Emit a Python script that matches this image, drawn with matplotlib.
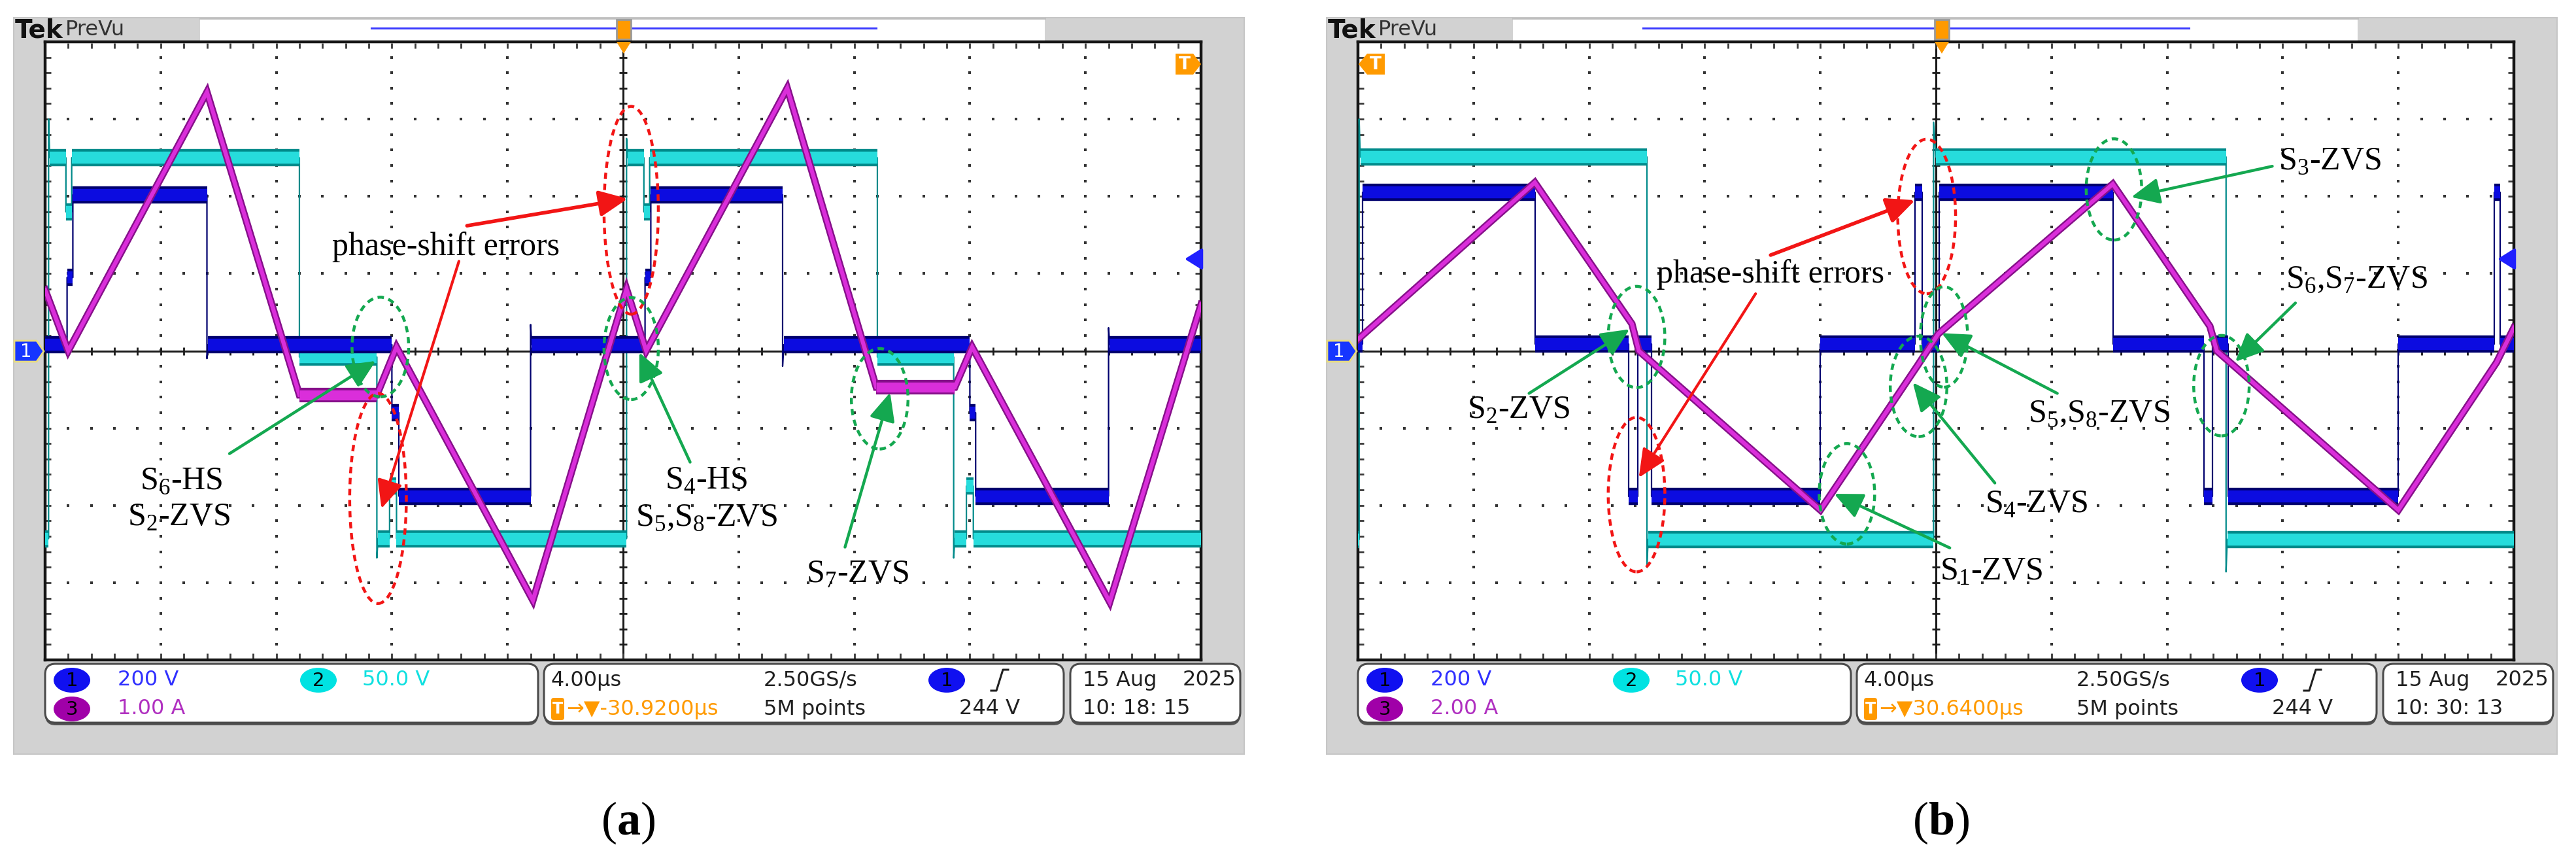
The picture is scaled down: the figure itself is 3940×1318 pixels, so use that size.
import matplotlib
matplotlib.use("Agg")
import numpy as np
import matplotlib.pyplot as plt
from matplotlib.patches import Rectangle, Ellipse, FancyBboxPatch, Polygon

plt.rcParams['font.family'] = ['Liberation Serif', 'DejaVu Serif']
plt.rcParams['mathtext.fontset'] = 'custom'
plt.rcParams['mathtext.rm'] = 'Liberation Serif'
plt.rcParams['mathtext.bf'] = 'Liberation Serif:bold'

W, H = 3941, 1318

# ---------------- panel (a): time in divisions (4 us/div), level in divisions ----------------
a_ch1_t = [0, 0.19, 0.19, 0.24, 0.24, 1.40, 1.40, 1.41, 3.00, 3.00, 3.06, 3.06, 4.20, 4.20, 4.21,
           5.19, 5.19, 5.24, 5.24, 6.38, 6.38, 6.39, 8.00, 8.00, 8.05, 8.05, 9.20, 9.20, 9.21, 10]
a_ch1_v = [0.08, 0.08, 0.95, 0.95, 2.02, 2.02, -0.1, 0.08, 0.08, -0.8, -0.8, -1.88, -1.88, 0.34, 0.08,
           0.08, 0.95, 0.95, 2.02, 2.02, -0.2, 0.08, 0.08, -0.8, -0.8, -1.88, -1.88, 0.3, 0.08, 0.08]
a_ch2_t = [0, 0.03, 0.03, 0.04, 0.18, 0.18, 0.23, 0.23, 2.20, 2.20, 2.87, 2.87, 2.88, 2.98, 2.98,
           3.04, 3.04, 5.03, 5.03, 5.04, 5.18, 5.18, 5.23, 5.23, 7.20, 7.20, 7.86, 7.86, 7.87, 7.97,
           7.97, 8.03, 8.03, 10]
a_ch2_v = [-2.43, -2.43, 3.0, 2.5, 2.5, 1.8, 1.8, 2.5, 2.5, -0.08, -0.08, -2.68, -2.43, -2.43, -1.75,
           -1.75, -2.43, -2.43, 2.75, 2.5, 2.5, 1.8, 1.8, 2.5, 2.5, -0.08, -0.08, -2.68, -2.43, -2.43,
           -1.75, -1.75, -2.43, -2.43]
a_ch3_t = [0, 0.20, 1.40, 2.20, 2.87, 3.04, 4.22, 5.03, 5.20, 6.42, 7.19, 7.87, 8.02, 9.21, 10]
a_ch3_v = [0.79, 0.0, 3.35, -0.57, -0.57, 0.05, -3.23, 0.80, 0.0, 3.40, -0.47, -0.47, 0.05, -3.25, 0.60]

# ---------------- panel (b) ----------------
b_ch1_t = [0, 0.04, 0.04, 1.53, 1.53, 2.34, 2.34, 2.42, 2.42, 2.54, 2.54, 4.00, 4.00, 4.82, 4.82,
           4.88, 4.88, 5.03, 5.03, 6.53, 6.53, 7.32, 7.32, 7.39, 7.39, 7.53, 7.53, 9.00, 9.00, 9.83,
           9.83, 9.88, 9.88, 10]
b_ch1_v = [0.09, 0.09, 2.05, 2.05, 0.09, 0.09, -1.88, -1.88, 0.09, 0.09, -1.88, -1.88, 0.09, 0.09,
           2.05, 2.05, 0.09, 0.09, 2.05, 2.05, 0.09, 0.09, -1.88, -1.88, 0.09, 0.09, -1.88, -1.88,
           0.09, 0.09, 2.05, 2.05, 0.09, 0.09]
b_ch2_t = [0, 0.01, 0.01, 0.02, 2.50, 2.50, 2.51, 4.98, 4.98, 5.00, 7.51, 7.51, 7.52, 10]
b_ch2_v = [-2.44, -2.44, 3.0, 2.51, 2.51, -2.8, -2.44, -2.44, 2.96, 2.51, 2.51, -2.86, -2.44, -2.44]
b_ch3_t = [0, 1.53, 2.37, 2.43, 4.00, 4.85, 5.02, 6.53, 7.37, 7.43, 9.00, 9.85, 10]
b_ch3_v = [0.15, 2.18, 0.35, 0.0, -2.06, -0.17, 0.22, 2.16, 0.32, 0.0, -2.06, -0.15, 0.30]

# status bar texts
a_scales = ["200 V", "50.0 V", "1.00 A"]
b_scales = ["200 V", "50.0 V", "2.00 A"]
a_horiz = ["4.00\u00b5s", "\u2192\u25bc-30.9200\u00b5s", "2.50GS/s", "5M points", "244 V"]
b_horiz = ["4.00\u00b5s", "\u2192\u25bc30.6400\u00b5s", "2.50GS/s", "5M points", "244 V"]
a_date = ["15 Aug", "2025", "10: 18: 15"]
b_date = ["15 Aug", "2025", "10: 30: 13"]

BLUE, NAVY = '#0c0ce0', '#00006e'
CYAN, TEAL = '#26dcdc', '#008a8a'
MAG, PURP = '#da2eda', '#86108a'
RED, GREEN = '#f21515', '#14a850'
ORANGE = '#ff9a00'
SANS = 'DejaVu Sans'


def draw_trace(ax, t, v, band, edge, thin_lw, band_lw):
    ax.plot(t, v, color=edge, lw=thin_lw, zorder=3)
    for i in range(len(t) - 1):
        if v[i] == v[i + 1] and t[i + 1] > t[i]:
            ax.plot([t[i], t[i + 1]], [v[i], v[i]], color=edge, lw=band_lw,
                    solid_capstyle='butt', zorder=3)
            ax.plot([t[i], t[i + 1]], [v[i], v[i]], color=band, lw=band_lw * 0.7,
                    solid_capstyle='butt', zorder=3)


def draw_grid(ax):
    minor = np.arange(0, 10.001, 0.2)
    vminor = np.arange(-4, 4.001, 0.2)
    for yl in [-3, -2, -1, 1, 2, 3]:
        ax.scatter(minor, np.full_like(minor, yl), s=6, marker='s', c='#333333', lw=0, zorder=1)
    for xl in [1, 2, 3, 4, 6, 7, 8, 9]:
        ax.scatter(np.full_like(vminor, xl), vminor, s=6, marker='s', c='#333333', lw=0, zorder=1)
    ax.axhline(0, color='#1a1a1a', lw=2.2, zorder=1)
    ax.axvline(5, color='#1a1a1a', lw=2.2, zorder=1)
    ax.plot(minor, np.zeros_like(minor), ls='none', marker='|', ms=9, mew=2, color='#1a1a1a', zorder=1)
    ax.plot(np.full_like(vminor, 5), vminor, ls='none', marker='_', ms=9, mew=2, color='#1a1a1a', zorder=1)
    ax.plot(minor, np.full_like(minor, 3.95), ls='none', marker='|', ms=6, mew=2, color='#3a3a3a', zorder=1)
    ax.plot(minor, np.full_like(minor, -3.95), ls='none', marker='|', ms=6, mew=2, color='#3a3a3a', zorder=1)
    ax.plot(np.full_like(vminor, 0.03), vminor, ls='none', marker='_', ms=6, mew=2, color='#3a3a3a', zorder=1)
    ax.plot(np.full_like(vminor, 9.97), vminor, ls='none', marker='_', ms=6, mew=2, color='#3a3a3a', zorder=1)


def annotate(ax, ellipses, arrows, texts):
    for (cx, cy, w, h, col) in ellipses:
        ax.add_patch(Ellipse((cx, cy), w, h, fill=False, ec=col, lw=3.2,
                             ls=(0, (2.2, 1.6)), zorder=6, clip_on=False))
    for (x0, y0, x1, y1, col, lw) in arrows:
        ax.annotate('', xy=(x1, y1), xytext=(x0, y0), zorder=7,
                    arrowprops=dict(arrowstyle='-|>,head_length=1.2,head_width=0.55',
                                    mutation_scale=22, lw=lw, color=col,
                                    shrinkA=0, shrinkB=0))
    for (x, y, s) in texts:
        ax.text(x, y, s, fontsize=36, ha='center', va='center', color='black', zorder=8)


def badge(ax, cx, cy, label, fc):
    ax.add_patch(Ellipse((cx, cy), 56, 38, fc=fc, ec='none', zorder=3))
    ax.text(cx, cy + 1, label, fontsize=21, ha='center', va='center', color='black',
            family=SANS, zorder=4)


def rising_edge(ax, x, y, col='#202020'):
    ax.plot([x - 8, x, x + 10, x + 18], [y + 16, y + 16, y - 16, y - 16], color=col, lw=2.2, zorder=4)


def draw_panel(ox, ch1_t, ch1_v, ch2_t, ch2_v, ch3_t, ch3_v, scales, horiz, date, label,
               blue_line, tag_side, ellipses, arrows, texts):
    bg = fig_bg
    top = fig_top
    # scope frame
    bg.add_patch(Rectangle((ox + 21, 27), 1882, 1126, fc='#d2d2d2', ec='#c6c6c6', lw=1.5, zorder=0))
    bg.add_patch(Rectangle((ox + 306, 27), 1292, 35, fc='white', ec='none', zorder=1))
    bg.plot([ox + 306, ox + 1598], [28, 28], color='#bdbdbd', lw=2, zorder=2)
    bg.text(ox + 23, 46, "Tek", fontsize=28, fontweight='bold', family=SANS, va='center',
            ha='left', color='#111111', zorder=2)
    bg.text(ox + 100, 46, "PreVu", fontsize=23, family=SANS, va='center', ha='left',
            color='#333333', zorder=2)
    bg.plot(blue_line, [43, 43], color='#3b3bff', lw=2.2, zorder=2)
    trig_x = ox + 69 + 1768 * 0.5 + (1 if tag_side == 'right' else 9)
    bg.add_patch(Rectangle((trig_x - 11, 30), 22, 30, fc=ORANGE, ec='#9a9a9a', lw=2, zorder=3))
    top.add_patch(Polygon([(trig_x - 11, 64), (trig_x + 11, 64), (trig_x, 82)], closed=True,
                          fc=ORANGE, ec='none', zorder=5))

    # status boxes
    boxes = [(69, 754), (832, 795), (1637, 260)]
    for bx, bw in boxes:
        bg.add_patch(FancyBboxPatch((ox + bx, 1019), bw, 90, boxstyle="round,pad=0,rounding_size=16",
                                    fc='#555555', ec='none', zorder=1))
        bg.add_patch(FancyBboxPatch((ox + bx, 1015), bw, 90, boxstyle="round,pad=0,rounding_size=16",
                                    fc='white', ec='#4a4a4a', lw=2.2, zorder=2))
    r1, r2 = 1040, 1084
    badge(bg, ox + 110, r1, "1", '#1010f0')
    bg.text(ox + 180, r1, scales[0], fontsize=23, family=SANS, color='#3030ff', va='center', zorder=4)
    badge(bg, ox + 487, r1, "2", '#00e2e2')
    bg.text(ox + 554, r1, scales[1], fontsize=23, family=SANS, color='#10e0e0', va='center', zorder=4)
    badge(bg, ox + 110, r2, "3", '#a000a8')
    bg.text(ox + 180, r2, scales[2], fontsize=23, family=SANS, color='#b030c0', va='center', zorder=4)

    bg.text(ox + 842, r1, horiz[0], fontsize=23, family=SANS, color='#202020', va='center', zorder=4)
    bg.add_patch(FancyBboxPatch((ox + 843, r2 - 17), 20, 34, boxstyle="round,pad=0,rounding_size=4",
                                fc=ORANGE, ec='none', zorder=3))
    bg.text(ox + 853, r2, "T", fontsize=17, family=SANS, fontweight='bold', color='white',
            ha='center', va='center', zorder=4)
    bg.text(ox + 866, r2, horiz[1], fontsize=23, family=SANS, color=ORANGE, va='center', zorder=4)
    bg.text(ox + 1168, r1, horiz[2], fontsize=23, family=SANS, color='#202020', va='center', zorder=4)
    bg.text(ox + 1168, r2, horiz[3], fontsize=23, family=SANS, color='#202020', va='center', zorder=4)
    badge(bg, ox + 1448, r1, "1", '#1010f0')
    rising_edge(bg, ox + 1524, r1)
    bg.text(ox + 1560, r2, horiz[4], fontsize=23, family=SANS, color='#202020', va='center',
            ha='right', zorder=4)
    bg.text(ox + 1656, r1, date[0], fontsize=23, family=SANS, color='#202020', va='center', zorder=4)
    bg.text(ox + 1890, r1, date[1], fontsize=23, family=SANS, color='#202020', va='center',
            ha='right', zorder=4)
    bg.text(ox + 1656, r2, date[2], fontsize=23, family=SANS, color='#202020', va='center', zorder=4)

    # channel-1 ground tag
    top.add_patch(Polygon([(ox + 22, 521), (ox + 56, 521), (ox + 67, 537), (ox + 56, 553), (ox + 22, 553)],
                          closed=True, fc='#1636ff', ec='#e8dc80', lw=2, zorder=5))
    top.text(ox + 40, 538, "1", fontsize=20, family=SANS, color='white', ha='center', va='center', zorder=6)
    # trigger level tag and arrow
    if tag_side == 'right':
        pts = [(ox + 1798, 82), (ox + 1825, 82), (ox + 1837, 98), (ox + 1825, 114), (ox + 1798, 114)]
        tx = ox + 1812
    else:
        pts = [(ox + 110, 82), (ox + 83, 82), (ox + 70, 98), (ox + 83, 114), (ox + 110, 114)]
        tx = ox + 96
    top.add_patch(Polygon(pts, closed=True, fc=ORANGE, ec='none', zorder=5))
    top.text(tx, 99, "T", fontsize=19, family=SANS, fontweight='bold', color='white',
             ha='center', va='center', zorder=6)
    top.annotate('', xy=(ox + 1812, 396), xytext=(ox + 1836, 396), zorder=6,
                 arrowprops=dict(arrowstyle='-|>,head_length=0.8,head_width=0.5', mutation_scale=20,
                                 lw=3, color='#2020ff', shrinkA=0, shrinkB=0))

    # graticule and traces
    ax = fig.add_axes([(ox + 69) / W, 1 - 1009 / H, 1768 / W, 945 / H])
    ax.set_xlim(0, 10)
    ax.set_ylim(-4, 4)
    ax.set_xticks([])
    ax.set_yticks([])
    for s in ax.spines.values():
        s.set_linewidth(3.2)
        s.set_color('#151515')
    draw_grid(ax)
    draw_trace(ax, ch2_t, ch2_v, CYAN, TEAL, 1.6, 19)
    draw_trace(ax, ch1_t, ch1_v, BLUE, NAVY, 1.6, 19)
    ax.plot(ch3_t, ch3_v, color=PURP, lw=8, zorder=4, solid_joinstyle='miter')
    ax.plot(ch3_t, ch3_v, color=MAG, lw=4.5, zorder=4, solid_joinstyle='miter')
    for i in range(len(ch3_t) - 1):
        if ch3_v[i] == ch3_v[i + 1]:
            ax.plot(ch3_t[i:i + 2], ch3_v[i:i + 2], color=PURP, lw=16, solid_capstyle='butt', zorder=4)
            ax.plot(ch3_t[i:i + 2], ch3_v[i:i + 2], color=MAG, lw=11, solid_capstyle='butt', zorder=4)
    annotate(ax, ellipses, arrows, texts)

    bg.text(ox + 961, 1258, label, fontsize=52, ha='center', va='center', color='black')


fig = plt.figure(figsize=(W / 100, H / 100), dpi=100)
fig_bg = fig.add_axes([0, 0, 1, 1])
fig_bg.set_xlim(0, W)
fig_bg.set_ylim(H, 0)
fig_bg.axis('off')

fig_top = fig.add_axes([0, 0, 1, 1], zorder=10)
fig_top.set_xlim(0, W)
fig_top.set_ylim(H, 0)
fig_top.axis('off')
fig_top.patch.set_alpha(0)

a_ell = [(5.07, 1.82, 0.47, 2.69, RED), (2.88, -1.91, 0.49, 2.72, RED),
         (2.90, 0.05, 0.49, 1.29, GREEN), (5.07, 0.03, 0.47, 1.32, GREEN), (7.22, -0.62, 0.49, 1.30, GREEN)]
a_arr = [(3.65, 1.62, 5.04, 1.97, RED, 4), (3.58, 1.16, 2.91, -2.04, RED, 3),
         (1.595, -1.33, 2.86, -0.13, GREEN, 3.2), (5.58, -1.44, 5.14, -0.02, GREEN, 3.2),
         (6.92, -2.54, 7.31, -0.54, GREEN, 3.2)]
a_txt = [(3.47, 1.35, "phase-shift errors"),
         (1.18, -1.69, r"S$_\mathregular{6}$-HS"), (1.16, -2.16, r"S$_\mathregular{2}$-ZVS"),
         (5.72, -1.69, r"S$_\mathregular{4}$-HS"),
         (5.72, -2.16, r"S$_\mathregular{5}$,S$_\mathregular{8}$-ZVS"),
         (7.03, -2.90, r"S$_\mathregular{7}$-ZVS")]

b_ell = [(4.92, 1.74, 0.50, 2.0, RED), (2.41, -1.86, 0.49, 2.0, RED),
         (2.41, 0.18, 0.49, 1.31, GREEN), (5.07, 0.18, 0.41, 1.30, GREEN),
         (4.85, -0.46, 0.49, 1.30, GREEN), (4.23, -1.85, 0.48, 1.30, GREEN),
         (6.54, 2.09, 0.48, 1.31, GREEN), (7.47, -0.45, 0.48, 1.30, GREEN)]
b_arr = [(3.57, 1.24, 4.82, 1.95, RED, 4), (3.44, 0.74, 2.43, -1.64, RED, 3),
         (1.48, -0.55, 2.35, 0.28, GREEN, 3.2), (6.05, -0.55, 5.05, 0.23, GREEN, 3.2),
         (5.51, -1.71, 4.80, -0.41, GREEN, 3.2), (5.12, -2.55, 4.12, -1.85, GREEN, 3.2),
         (7.91, 2.39, 6.69, 1.99, GREEN, 3.2), (8.11, 0.62, 7.59, -0.14, GREEN, 3.2)]
b_txt = [(3.57, 0.99, "phase-shift errors"),
         (1.39, -0.77, r"S$_\mathregular{2}$-ZVS"),
         (6.41, -0.81, r"S$_\mathregular{5}$,S$_\mathregular{8}$-ZVS"),
         (5.87, -1.99, r"S$_\mathregular{4}$-ZVS"), (5.48, -2.86, r"S$_\mathregular{1}$-ZVS"),
         (8.41, 2.45, r"S$_\mathregular{3}$-ZVS"),
         (8.64, 0.92, r"S$_\mathregular{6}$,S$_\mathregular{7}$-ZVS")]

draw_panel(0, a_ch1_t, a_ch1_v, a_ch2_t, a_ch2_v, a_ch3_t, a_ch3_v, a_scales, a_horiz, a_date,
           r"($\mathbf{a}$)", [568, 1340], 'right', a_ell, a_arr, a_txt)
draw_panel(2008, b_ch1_t, b_ch1_v, b_ch2_t, b_ch2_v, b_ch3_t, b_ch3_v, b_scales, b_horiz, b_date,
           r"($\mathbf{b}$)", [2513, 3348], 'left', b_ell, b_arr, b_txt)

fig.savefig("out.png", dpi=100)
